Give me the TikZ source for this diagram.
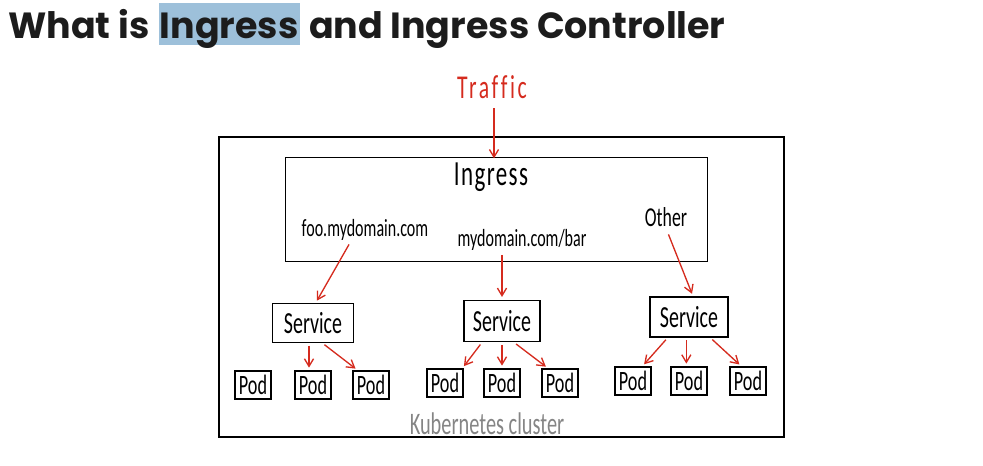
\documentclass[tikz,border=0pt]{standalone}
\usepackage{fontspec}
\setmainfont{Carlito}
\newfontfamily\hand[FakeStretch=0.65]{Carlito}
\newfontfamily\titlefont{Poppins}
\usetikzlibrary{arrows.meta, positioning}
\definecolor{inkred}{HTML}{D52B1E}
\definecolor{hilite}{HTML}{9DC0DA}
\definecolor{labelgray}{HTML}{858585}
\definecolor{titleink}{HTML}{1C1C1C}
\tikzset{
  titletext/.style={inner sep=0pt, text=titleink, font=\titlefont\bfseries\fontsize{27.3}{27.3}\selectfont},
  cluster/.style={draw, line width=1.5pt, minimum width=424pt, minimum height=225pt},
  ingressbox/.style={draw, line width=0.6pt, minimum width=317pt, minimum height=78pt},
  svc/.style={draw, line width=1.1pt, inner sep=0pt, font=\hand\fontsize{23}{23}\selectfont},
  pod/.style={draw, line width=1.1pt, inner sep=0pt, minimum width=27pt, minimum height=21pt, font=\hand\fontsize{21}{21}\selectfont},
  rule/.style={inner sep=1pt, font=\hand\fontsize{18.5}{18.5}\selectfont},
  flow/.style={-{Straight Barb[length=2mm, width=2.4mm]}, draw=inkred, line width=1pt, shorten <=2pt, shorten >=2pt},
}

\begin{document}
\begin{tikzpicture}[x=0.75pt, y=-0.75pt]
    \useasboundingbox (0,0) rectangle (983,465);

    % heading with highlighted word
    \node[titletext, anchor=base west] (tw) at (8,38) {What is};
    \node[titletext, base right=6.5pt of tw, fill=hilite, text height=26pt, text depth=5.3pt, inner xsep=1pt] (hl) {Ingress};
    \node[titletext, base right=6.5pt of hl] (tr) {and Ingress Controller};

    % cluster and ingress
    \node[cluster] (cluster) at (501.5,287) {};
    \node[ingressbox] (ingress) at (496.5,209) {};
    \node[inner sep=1pt, text=inkred, font=\hand\fontsize{25}{25}\selectfont\addfontfeatures{LetterSpace=8, Ligatures=NoCommon}] (traffic) at (492,87) {Traffic};
    \node[inner sep=1pt, font=\hand\fontsize{26.5}{26.5}\selectfont\addfontfeatures{LetterSpace=4}] (inglabel) at (491,177) {Ingress};
    \node[rule] (foo) at (365,230) {foo.mydomain.com};
    \node[rule] (bar) at (522,240) {mydomain.com/bar};
    \node[rule, font=\hand\fontsize{20.5}{20.5}\selectfont] (other) at (666,217) {Other};
    \node[text=labelgray, font=\hand\fontsize{23.5}{23.5}\selectfont] (k8s) at (487,424) {Kubernetes cluster};

    % services
    \node[svc, minimum width=60.75pt, minimum height=29pt] (svcA) at (313,323) {Service};
    \node[svc, minimum width=57pt, minimum height=31pt] (svcB) at (502,321) {Service};
    \node[svc, minimum width=58.5pt, minimum height=30pt] (svcC) at (689,317) {Service};

    % pods
    \node[pod] (podA1) at (253,385) {Pod};
    \node[pod] (podA2) at (313,385) {Pod};
    \node[pod] (podA3) at (371,385) {Pod};
    \node[pod] (podB1) at (445,383) {Pod};
    \node[pod] (podB2) at (502,383) {Pod};
    \node[pod] (podB3) at (560,383) {Pod};
    \node[pod] (podC1) at (633,381) {Pod};
    \node[pod] (podC2) at (689,381) {Pod};
    \node[pod] (podC3) at (748,381) {Pod};

    \draw[flow, shorten <=6pt] ([xshift=1.5pt]traffic.south) -- ([xshift=1.5pt]traffic.south |- inglabel.north);
    \draw[flow] ([xshift=-11pt]foo.south) -- ([xshift=2pt]svcA.north);
    \draw[flow] (svcB.north |- bar.south) -- (svcB.north);
    \draw[flow, shorten <=5pt] (other.south) -- ([xshift=3pt]svcC.north);

    \draw[flow] ([xshift=-3pt]svcA.south) -- ([xshift=-3pt]podA2.north);
    \draw[flow] ([xshift=7pt]svcA.south) -- ([xshift=-10pt]podA3.north);
    \draw[flow] ([xshift=-15pt]svcB.south) -- ([xshift=13pt]podB1.north);
    \draw[flow] (svcB.south) -- (podB2.north);
    \draw[flow] ([xshift=9pt]svcB.south) -- ([xshift=-9pt]podB3.north);
    \draw[flow] ([xshift=-16pt]svcC.south) -- ([xshift=7pt]podC1.north);
    \draw[flow] ([xshift=-2pt]svcC.south) -- ([xshift=-2pt]podC2.north);
    \draw[flow] ([xshift=16pt]svcC.south) -- ([xshift=-5pt]podC3.north);
\end{tikzpicture}
\end{document}
